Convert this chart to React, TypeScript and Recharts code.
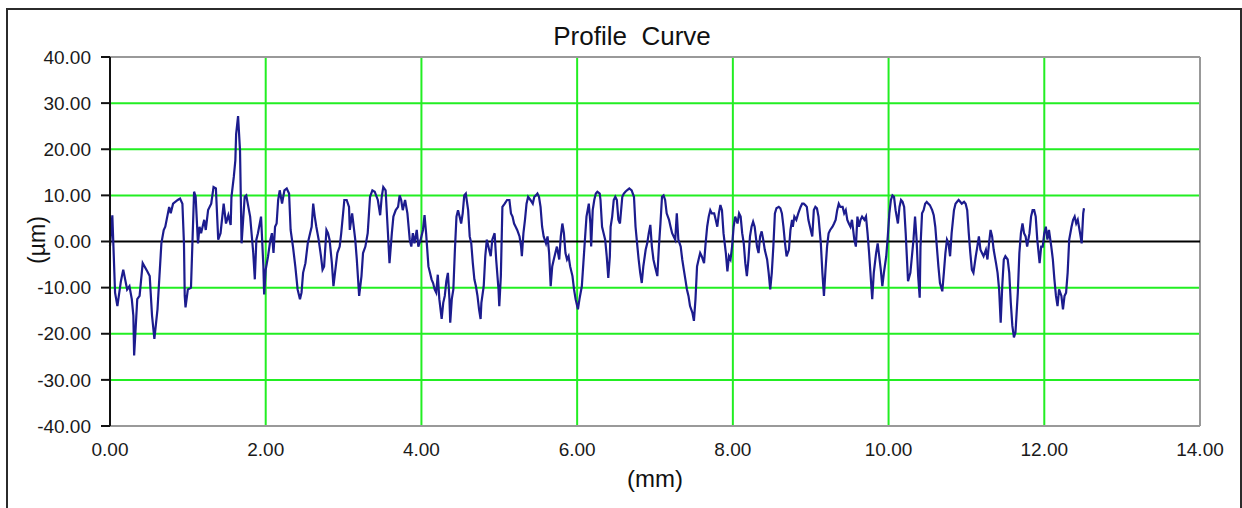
import React from "react";
import { CartesianGrid, Line, LineChart, ReferenceLine, XAxis, YAxis } from "recharts";

// profile readings, [distance mm, height µm] in 2 mm blocks
const block0to2: [number, number][] = [
  [0.0, -1.0], [0.03, 5.7], [0.065, -11.1], [0.095, -14.0], [0.14, -8.6], [0.17, -6.1], [0.22, -10.4],
  [0.25, -9.7], [0.28, -12.5], [0.3, -16.1], [0.31, -24.7], [0.35, -12.5], [0.38, -11.8], [0.42, -4.7],
  [0.48, -6.5], [0.51, -7.5], [0.54, -16.1], [0.57, -21.1], [0.61, -14.7], [0.66, -0.4], [0.69, 2.5],
  [0.71, 3.2], [0.76, 7.5], [0.78, 6.1], [0.81, 8.2], [0.87, 9.0], [0.9, 9.3], [0.93, 8.2], [0.95, -0.4],
  [0.96, -11.8], [0.97, -14.3], [1.0, -10.4], [1.04, -10.0], [1.06, 0.4], [1.08, 10.8], [1.1, 9.7],
  [1.13, -0.4], [1.15, 3.2], [1.17, 1.8], [1.21, 4.7], [1.23, 2.5], [1.26, 6.8], [1.3, 8.2], [1.33, 11.8],
  [1.36, 11.5], [1.39, 0.4], [1.42, 1.8], [1.46, 8.2], [1.49, 3.9], [1.52, 5.7], [1.55, 3.6], [1.56, 9.7],
  [1.59, 14.0], [1.61, 17.6], [1.62, 23.3], [1.645, 27.2], [1.67, 19.7], [1.69, -0.4], [1.73, 9.7],
  [1.75, 10.0], [1.8, 5.4], [1.84, -2.5], [1.86, -8.2], [1.88, 0.4], [1.9, 1.8], [1.94, 5.4], [1.97, -5.4],
  [1.98, -11.5],
];

const block2to4: [number, number][] = [
  [2.0, -6.1], [2.03, -3.2], [2.06, 0.4], [2.08, 1.8], [2.1, -2.5], [2.12, 3.2], [2.14, 3.9], [2.16, 9.0],
  [2.18, 11.1], [2.21, 8.2], [2.24, 11.1], [2.27, 11.5], [2.3, 10.4], [2.32, 2.5], [2.35, -1.1], [2.38, -5.4],
  [2.41, -10.4], [2.44, -12.5], [2.46, -11.1], [2.48, -6.8], [2.51, -4.7], [2.54, -0.4], [2.57, 1.8],
  [2.59, 3.2], [2.61, 8.2], [2.63, 5.4], [2.65, 3.2], [2.68, 0.4], [2.71, -3.2], [2.73, -6.1], [2.75, -5.4],
  [2.78, 2.5], [2.8, 1.8], [2.82, 0.4], [2.85, -4.7], [2.87, -9.7], [2.89, -6.8], [2.92, -2.5], [2.95, -1.1],
  [2.97, 1.8], [3.01, 9.0], [3.04, 9.0], [3.07, 7.5], [3.08, 2.5], [3.11, 6.1], [3.15, 0.4], [3.17, -3.9],
  [3.2, -11.8], [3.23, -7.5], [3.25, -2.5], [3.28, -1.1], [3.31, 1.8], [3.34, 9.7], [3.37, 11.1],
  [3.4, 10.8], [3.44, 9.0], [3.47, 5.7], [3.49, 9.7], [3.51, 11.8], [3.54, 11.1], [3.57, 1.8], [3.59, -4.7],
  [3.62, 1.8], [3.64, 5.4], [3.67, 6.8], [3.7, 7.5], [3.72, 10.0], [3.74, 9.0], [3.76, 6.8], [3.79, 9.0],
  [3.82, 6.1], [3.85, 0.4], [3.87, -1.1], [3.89, 1.8], [3.91, -0.4], [3.94, 2.5], [3.96, -1.1], [3.99, 0.4],
];

const block4to6: [number, number][] = [
  [4.02, 2.5], [4.04, 5.7], [4.06, 1.8], [4.09, -5.4], [4.11, -6.8], [4.13, -8.2], [4.15, -9.0],
  [4.17, -10.4], [4.19, -11.1], [4.21, -7.2], [4.23, -12.5], [4.26, -16.8], [4.28, -13.3], [4.3, -11.8],
  [4.32, -8.6], [4.34, -6.8], [4.36, -12.5], [4.37, -17.6], [4.39, -12.5], [4.41, -10.4], [4.43, -1.8],
  [4.45, 5.4], [4.47, 6.8], [4.49, 5.4], [4.51, 3.9], [4.53, 6.1], [4.55, 10.0], [4.57, 10.4], [4.6, 6.8],
  [4.62, 1.1], [4.64, -0.4], [4.66, -4.7], [4.68, -8.2], [4.7, -9.7], [4.72, -11.8], [4.74, -14.7],
  [4.76, -16.8], [4.77, -13.3], [4.8, -9.7], [4.82, -3.2], [4.84, 0.4], [4.87, -1.8], [4.89, -3.2],
  [4.91, 0.4], [4.94, 1.8], [4.96, -3.9], [4.99, -10.4], [5.0, -14.0], [5.02, -7.5], [5.04, 7.5],
  [5.07, 8.2], [5.1, 9.0], [5.13, 9.0], [5.15, 6.1], [5.17, 5.4], [5.19, 3.9], [5.21, 3.2], [5.23, 2.5],
  [5.26, 1.1], [5.28, -1.1], [5.29, -3.2], [5.31, 1.8], [5.33, 4.7], [5.35, 8.2], [5.37, 9.7], [5.4, 9.0],
  [5.43, 8.2], [5.45, 9.7], [5.47, 10.0], [5.49, 10.4], [5.51, 9.7], [5.53, 7.5], [5.55, 3.2], [5.57, 1.1],
  [5.6, -0.4], [5.62, 1.1], [5.64, -2.5], [5.66, -9.7], [5.68, -5.4], [5.7, -3.9], [5.72, -2.5],
  [5.74, -1.1], [5.77, -3.9], [5.79, 1.1], [5.81, 3.9], [5.83, 1.8], [5.85, -2.5], [5.87, -3.9],
  [5.89, -3.2], [5.91, -5.4], [5.94, -7.5], [5.96, -10.4], [5.98, -12.5],
];

const block6to8: [number, number][] = [
  [6.01, -14.7], [6.03, -12.5], [6.06, -9.7], [6.08, -4.7], [6.1, 0.4], [6.12, 5.4], [6.15, 8.2],
  [6.17, 3.9], [6.18, -1.1], [6.2, 6.8], [6.22, 9.0], [6.24, 10.4], [6.26, 10.8], [6.29, 10.4], [6.3, 9.0],
  [6.32, 3.2], [6.34, 1.8], [6.36, 0.4], [6.38, -3.2], [6.4, -7.9], [6.42, -3.2], [6.43, 3.2], [6.45, 5.4],
  [6.47, 9.0], [6.49, 9.7], [6.51, 9.0], [6.53, 4.7], [6.55, 3.9], [6.58, 9.7], [6.6, 10.4], [6.62, 10.8],
  [6.64, 11.1], [6.67, 11.5], [6.7, 11.1], [6.73, 9.7], [6.75, 3.2], [6.77, -0.4], [6.79, -3.9],
  [6.81, -6.8], [6.83, -9.0], [6.85, -5.4], [6.88, -1.8], [6.9, -0.4], [6.92, 1.8], [6.94, 3.6],
  [6.96, -1.1], [6.98, -3.9], [7.0, -5.4], [7.03, -7.5], [7.05, -1.1], [7.07, 3.9], [7.09, 9.7],
  [7.11, 10.0], [7.13, 9.0], [7.15, 6.1], [7.18, 4.7], [7.2, 3.2], [7.22, 1.8], [7.24, 1.1], [7.26, 0.4],
  [7.28, 6.1], [7.3, 0.4], [7.33, -1.1], [7.35, -3.9], [7.37, -6.1], [7.39, -8.2], [7.41, -10.4],
  [7.43, -11.8], [7.45, -14.0], [7.48, -15.4], [7.5, -17.2], [7.52, -12.5], [7.54, -5.4], [7.56, -3.9],
  [7.58, -2.5], [7.6, -3.2], [7.63, -4.7], [7.65, -0.4], [7.67, 3.2], [7.69, 5.4], [7.71, 6.8], [7.73, 6.1],
  [7.76, 6.1], [7.78, 4.7], [7.8, 3.2], [7.82, 6.1], [7.84, 7.9], [7.86, 6.8], [7.88, 1.8], [7.91, -2.5],
  [7.93, -6.5], [7.95, -3.2], [7.97, -3.9], [7.99, -1.1],
];

const block8to10: [number, number][] = [
  [8.01, 3.2], [8.03, 5.4], [8.06, 3.9], [8.08, 6.1], [8.1, 5.4], [8.12, 1.8], [8.14, -0.4], [8.16, -4.7],
  [8.18, -7.5], [8.2, -3.9], [8.22, 1.1], [8.24, 3.2], [8.26, 4.3], [8.28, 3.2], [8.31, -1.1], [8.33, -2.5],
  [8.35, 1.1], [8.37, 2.2], [8.39, 0.4], [8.41, -1.8], [8.44, -3.9], [8.46, -6.8], [8.48, -10.4],
  [8.5, -6.8], [8.52, -1.1], [8.54, 6.1], [8.56, 7.2], [8.59, 7.5], [8.61, 7.2], [8.63, 6.1], [8.65, 3.2],
  [8.67, -0.4], [8.69, -3.2], [8.72, -1.8], [8.74, 2.5], [8.76, 4.7], [8.77, 3.2], [8.79, 5.4],
  [8.815, 4.7], [8.84, 6.1], [8.87, 7.5], [8.89, 8.2], [8.91, 8.2], [8.93, 7.9], [8.95, 7.5], [8.97, 4.7],
  [9.0, 2.5], [9.02, 1.1], [9.04, 6.8], [9.06, 7.5], [9.08, 7.2], [9.1, 5.4], [9.13, -0.4], [9.15, -6.8],
  [9.17, -11.8], [9.19, -6.1], [9.21, -1.1], [9.23, 1.8], [9.25, 2.5], [9.28, 3.2], [9.3, 3.9], [9.32, 4.7],
  [9.34, 6.8], [9.36, 8.2], [9.38, 7.5], [9.41, 7.5], [9.43, 6.1], [9.45, 6.8], [9.47, 4.7], [9.49, 3.9],
  [9.51, 3.2], [9.53, 4.7], [9.56, 0.4], [9.58, -1.1], [9.6, 5.4], [9.62, 3.2], [9.64, 4.7], [9.66, 5.4],
  [9.69, 4.7], [9.71, 5.4], [9.73, 1.8], [9.75, -2.5], [9.77, -7.5], [9.79, -12.5], [9.81, -6.8],
  [9.84, -2.5], [9.86, -0.4], [9.88, -3.2], [9.9, -6.1], [9.92, -9.7], [9.94, -6.8], [9.97, -3.2],
  [9.99, 1.1],
];

const block10to12_5: [number, number][] = [
  [10.01, 6.1], [10.03, 9.0], [10.05, 10.0], [10.07, 9.7], [10.09, 6.8], [10.12, 3.9], [10.14, 7.5],
  [10.16, 9.0], [10.18, 8.6], [10.2, 7.5], [10.22, 1.8], [10.25, -8.6], [10.28, -6.8], [10.3, -3.2],
  [10.32, 0.4], [10.34, 5.4], [10.36, 0.4], [10.38, -7.5], [10.4, -12.2], [10.41, -1.1], [10.43, 6.1],
  [10.45, 6.8], [10.47, 8.2], [10.49, 8.6], [10.51, 8.2], [10.53, 7.9], [10.56, 6.8], [10.58, 5.7],
  [10.6, 3.2], [10.62, -1.1], [10.64, -5.4], [10.66, -9.0], [10.69, -10.8], [10.71, -6.8], [10.73, -2.5],
  [10.75, 0.4], [10.77, -0.4], [10.79, -3.2], [10.81, 1.8], [10.84, 6.8], [10.86, 8.2], [10.88, 8.6],
  [10.9, 9.0], [10.92, 8.6], [10.94, 8.2], [10.97, 8.6], [10.99, 8.2], [11.01, 6.8], [11.03, 1.8],
  [11.05, -2.5], [11.07, -6.1], [11.09, -6.8], [11.12, -3.2], [11.14, -1.1], [11.16, 1.1], [11.18, -1.8],
  [11.2, -2.5], [11.22, -3.2], [11.25, -1.8], [11.27, -3.9], [11.29, -0.4], [11.31, 2.5], [11.33, 1.1],
  [11.35, -1.8], [11.38, -4.7], [11.4, -6.8], [11.42, -10.4], [11.44, -17.6], [11.46, -9.7], [11.48, -3.9],
  [11.5, -3.2], [11.53, -3.9], [11.55, -6.8], [11.57, -13.3], [11.59, -18.3], [11.61, -20.8],
  [11.63, -19.7], [11.66, -11.1], [11.68, -2.5], [11.7, 1.8], [11.72, 3.9], [11.74, 1.8], [11.76, 1.1],
  [11.78, -1.1], [11.81, 1.8], [11.83, 5.4], [11.85, 6.8], [11.87, 6.8], [11.89, 5.4], [11.91, 0.4],
  [11.94, -4.7], [11.96, -1.1], [11.98, -1.1], [12.0, 1.8], [12.02, 3.2], [12.04, 0.4], [12.06, 2.5],
  [12.09, -1.1], [12.11, -3.9], [12.13, -8.2], [12.15, -11.8], [12.17, -14.0], [12.19, -10.4],
  [12.22, -11.8], [12.24, -14.7], [12.26, -11.8], [12.28, -11.1], [12.3, -6.8], [12.32, 0.4], [12.35, 3.2],
  [12.37, 4.7], [12.39, 5.4], [12.41, 3.9], [12.43, 4.7], [12.46, 1.8], [12.48, -0.4], [12.5, 6.1],
  [12.51, 7.2],
];

const xTicks = [0, 2, 4, 6, 8, 10, 12, 14];
const yTicks = [-40, -30, -20, -10, 0, 10, 20, 30, 40];
const gridX = [2, 4, 6, 8, 10, 12];
const gridY = [-30, -20, -10, 10, 20, 30];

const data = [...block0to2, ...block2to4, ...block4to6, ...block6to8, ...block8to10, ...block10to12_5].map(
  ([x, y]) => ({ x, y })
);

const FONT = '"Liberation Sans", Arial, sans-serif';
const GREEN = "#22ee22";

export default function App() {
  return (
    <div style={{ position: "absolute", left: 0, top: 0, width: 1242, height: 508, background: "#fff", overflow: "hidden" }}>
      <div
        style={{
          position: "absolute",
          left: 6,
          top: 8,
          width: 1232,
          height: 520,
          border: "2px solid #2b2b2b",
        }}
      />
      <div style={{ position: "absolute", left: 0, top: 0 }}>
        <LineChart width={1242} height={508} data={data} margin={{ top: 57, right: 42, bottom: 52, left: 0 }}>
          <CartesianGrid stroke={GREEN} strokeWidth={2} horizontalValues={gridY} verticalValues={gridX} />
          <XAxis
            dataKey="x"
            type="number"
            domain={[0, 14]}
            ticks={xTicks}
            tickFormatter={(v) => Number(v).toFixed(2)}
            tick={{ fontSize: 19, fill: "#1a1a1a", fontFamily: FONT }}
            axisLine={{ stroke: "#999", strokeWidth: 2 }}
            tickLine={false}
            tickSize={6}
            tickMargin={11}
            height={30}
            interval={0}
          />
          <YAxis
            type="number"
            domain={[-40, 40]}
            ticks={yTicks}
            tickFormatter={(v) => Number(v).toFixed(2)}
            tick={{ fontSize: 19, fill: "#1a1a1a", fontFamily: FONT }}
            axisLine={{ stroke: "#111", strokeWidth: 2 }}
            tickLine={{ stroke: "#111", strokeWidth: 2 }}
            tickSize={9}
            tickMargin={10}
            width={110}
            interval={0}
          />
          <ReferenceLine y={40} stroke="#999" strokeWidth={2} />
          <ReferenceLine x={14} stroke="#999" strokeWidth={2} />
          <ReferenceLine y={0} stroke="#000" strokeWidth={1.8} />
          <Line
            type="linear"
            dataKey="y"
            stroke="#1c1c8e"
            strokeWidth={2.2}
            dot={false}
            activeDot={false}
            isAnimationActive={false}
          />
        </LineChart>
      </div>
      <svg width={1242} height={508} style={{ position: "absolute", left: 0, top: 0, pointerEvents: "none" }}>
        <text x={632} y={45} textAnchor="middle" fontSize={26} fontFamily={FONT} fill="#111" style={{ whiteSpace: "pre" }}>
          Profile  Curve
        </text>
        <text x={655} y={487} textAnchor="middle" fontSize={24} fontFamily={FONT} fill="#111">
          (mm)
        </text>
        <text
          x={45}
          y={240}
          textAnchor="middle"
          fontSize={23}
          fontFamily={FONT}
          fill="#111"
          transform="rotate(-90, 45, 240)"
        >
          (µm)
        </text>
      </svg>
    </div>
  );
}
